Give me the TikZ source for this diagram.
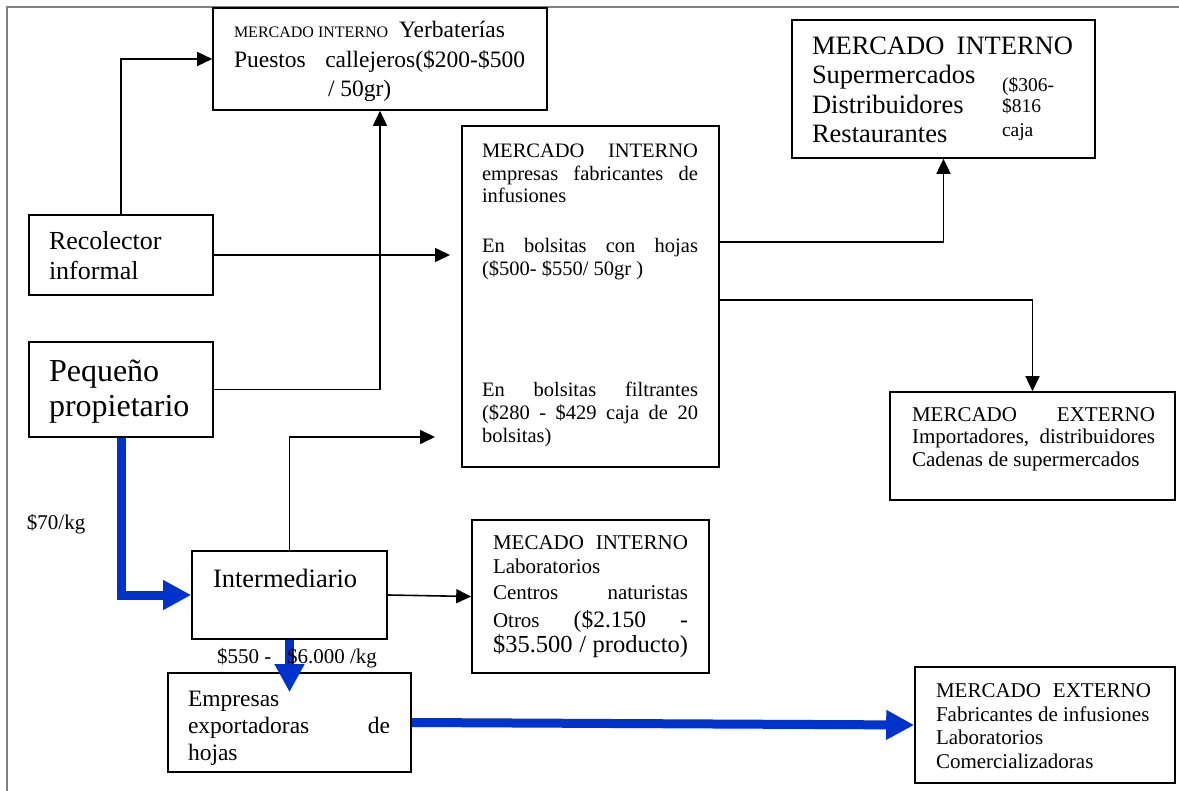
\documentclass[tikz,border=0pt]{standalone}
\usepackage{fontspec}
\setmainfont{Liberation Serif}
\usetikzlibrary{arrows.meta}
\definecolor{flowblue}{RGB}{0,51,204}
\newcommand{\FS}[1]{\fontsize{#1}{#1}\selectfont}
\newcommand{\JW}[2]{\makebox[#1pt][s]{#2}}
\tikzset{
  box/.style={draw, line width=1.6pt, inner sep=0pt},
  tx/.style={anchor=base west, inner sep=0pt, outer sep=0pt},
  arr/.style={draw, line width=1.6pt, -{Triangle[length=15pt,width=14pt]}},
  bl/.style={draw=flowblue, line width=9pt, -{Triangle[length=28pt,width=28pt]}}
}
\begin{document}
\begin{tikzpicture}[x=1pt,y=-1pt]
\useasboundingbox (0,0) rectangle (1179,791);
\fill[white] (0,0) rectangle (1179,791);
% frame
\draw[gray, line width=1.2pt] (7,791) -- (7,7) -- (1179,7);

% boxes
\node[box, minimum width=334pt, minimum height=102pt] (A) at (380,59) {};
\node[box, minimum width=303pt, minimum height=138pt] (B) at (943.5,89) {};
\node[box, minimum width=257pt, minimum height=341pt] (C) at (590.5,296.5) {};
\node[box, minimum width=184pt, minimum height=80pt] (R) at (121,255) {};
\node[box, minimum width=184pt, minimum height=95pt] (P) at (121,389.5) {};
\node[box, minimum width=285pt, minimum height=108pt] (E) at (1032.5,446) {};
\node[box, minimum width=195pt, minimum height=88pt] (I) at (289.5,595) {};
\node[box, minimum width=237pt, minimum height=153pt] (D) at (590.5,596.5) {};
\node[box, minimum width=243pt, minimum height=99pt] (M) at (289.5,722.5) {};
\node[box, minimum width=260pt, minimum height=116pt] (F) at (1045,725) {};

% texts A
\node[tx, font=\FS{16}] (a1) at (234,38) {MERCADO INTERNO};
\node[tx, font=\FS{23.5}] (a2) at (399,38) {Yerbaterías};
\node[tx, font=\FS{23.5}] (a3) at (234,68) {\JW{291}{Puestos callejeros(\$200-\$500}};
\node[tx, font=\FS{23.5}] (a4) at (328,97) {/ 50gr)};
% texts B
\node[tx, font=\FS{26.5}] (b1) at (812,55) {\JW{261}{MERCADO INTERNO}};
\node[tx, font=\FS{26.5}] (b2) at (812,84) {Supermercados};
\node[tx, font=\FS{26.5}] (b3) at (812,114) {Distribuidores};
\node[tx, font=\FS{26.5}] (b4) at (812,143) {Restaurantes};
\node[tx, font=\FS{19.5}] (b5) at (1002,92) {(\$306-};
\node[tx, font=\FS{19.5}] (b6) at (1002,113) {\$816};
\node[tx, font=\FS{19.5}] (b7) at (1002,137) {caja};
% texts C
\node[tx, font=\FS{20.5}] (c1) at (482,158) {\JW{216}{MERCADO INTERNO}};
\node[tx, font=\FS{20.5}] (c2) at (482,180.5) {\JW{216}{empresas fabricantes de}};
\node[tx, font=\FS{20.5}] (c3) at (482,203) {infusiones};
\node[tx, font=\FS{20.5}] (c4) at (482,253) {\JW{216}{En bolsitas con hojas}};
\node[tx, font=\FS{20.5}] (c5) at (482,276) {(\$500- \$550/ 50gr )};
\node[tx, font=\FS{20.5}] (c6) at (482,397) {\JW{216}{En bolsitas filtrantes}};
\node[tx, font=\FS{20.5}] (c7) at (482,420) {\JW{216}{(\$280 - \$429 caja de 20}};
\node[tx, font=\FS{20.5}] (c8) at (482,443) {bolsitas)};
% texts R, P, I
\node[tx, font=\FS{26}] (r1) at (49,250) {Recolector};
\node[tx, font=\FS{26}] (r2) at (49,280) {informal};
\node[tx, font=\FS{32}] (p1) at (49,382) {Pequeño};
\node[tx, font=\FS{32}] (p2) at (49,417) {propietario};
\node[tx, font=\FS{26.5}] (i1) at (213,587) {Intermediario};
% texts E
\node[tx, font=\FS{21}] (e1) at (912,422) {\JW{243}{MERCADO EXTERNO}};
\node[tx, font=\FS{21}] (e2) at (912,444) {\JW{243}{Importadores, distribuidores}};
\node[tx, font=\FS{21}] (e3) at (912,467) {Cadenas de supermercados};
% texts D
\node[tx, font=\FS{21}] (d1) at (493,550) {\JW{195}{MECADO INTERNO}};
\node[tx, font=\FS{21}] (d2) at (493,573) {Laboratorios};
\node[tx, font=\FS{21}] (d3) at (493,599) {\JW{195}{Centros naturistas}};
\node[tx, font=\FS{21}] (d4) at (493,627) {\JW{195}{Otros {\FS{23.5}(\$2.150} {\FS{23.5}-}}};
\node[tx, font=\FS{24.5}] (d5) at (493,652) {\JW{195}{\$35.500 / producto)}};
% texts F
\node[tx, font=\FS{21}] (f1) at (936,697) {\JW{215}{MERCADO EXTERNO}};
\node[tx, font=\FS{21}] (f2) at (936,721) {Fabricantes de infusiones};
\node[tx, font=\FS{21}] (f3) at (936,744) {Laboratorios};
\node[tx, font=\FS{21}] (f4) at (936,768) {Comercializadoras};
% texts M
\node[tx, font=\FS{23.5}] (m1) at (188,706) {Empresas};
\node[tx, font=\FS{23.5}] (m2) at (188,733) {\JW{202}{exportadoras de}};
\node[tx, font=\FS{23.5}] (m3) at (188,760) {hojas};

% free ends
\coordinate (cin) at (450,255);
\coordinate (ci) at (435,437);

% black connectors
\draw[arr] (R.north) |- (A.west);
\draw[arr] (P.east) -| (A.south);
\draw[arr] (R.east) -- (cin);
\draw[arr] ([yshift=54.5pt]C.east) -| (B.south);
\draw[arr] ([yshift=-3.5pt]C.east) -| (E.north);
\draw[arr] (I.north) |- (ci);
\draw[arr] (I.east) -- (D.west);

% blue connectors
\draw[bl] (P.south) |- (I.west);
\draw[bl] (I.south) -- ([yshift=-20pt]M.north);
\draw[bl] (M.east) -- (F.west);

% labels
\node[tx, font=\FS{21}] (l1) at (27,530) {\$70/kg};
\node[tx, font=\FS{21}] (l2) at (217,663) {\$550 -};
\node[tx, font=\FS{21}] (l3) at (287,663) {\$6.000 /kg};
\end{tikzpicture}
\end{document}
